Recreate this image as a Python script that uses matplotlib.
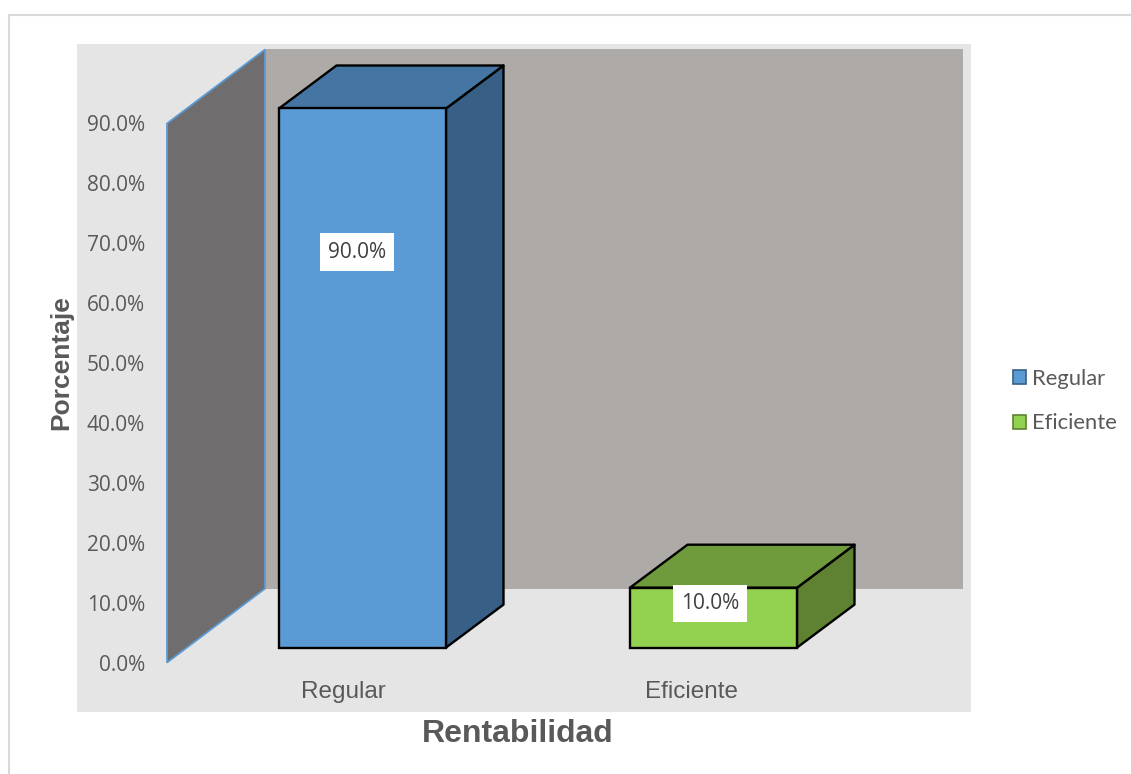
import matplotlib
matplotlib.use("Agg")
import matplotlib.pyplot as plt
from matplotlib.patches import Patch, Rectangle

# datos
categorias = ["Regular", "Eficiente"]
valores = [90.0, 10.0]
ticks_y = [0, 10, 20, 30, 40, 50, 60, 70, 80, 90]
color_frente = ["#5B9BD5", "#92D050"]
color_arriba = ["#4575A2", "#6F9B3C"]
color_lado = ["#385F85", "#5E8231"]

W, H = 1131, 774
PX_X = 351.0   # pixeles por categoria
PX_Y = 5.99    # pixeles por 1%
X0, Y0 = 343, 662.6  # pixel de x=0 , y=0


def dx(p):
    return p / PX_X


def dy(p):
    return p / PX_Y


fig = plt.figure(figsize=(W / 100, H / 100), dpi=100)
fig.patch.set_facecolor("white")

# borde del grafico, sale de la imagen por la derecha y abajo
fig.add_artist(Rectangle((8.5 / W, -0.05), 1.1, 1.05 - 14.5 / H, transform=fig.transFigure,
                         facecolor="white", edgecolor="#D9D9D9", linewidth=1.5, zorder=-1))

# area gris
L, R, T, B = 77, 971, 44, 712
ax = fig.add_axes([L / W, 1 - B / H, (R - L) / W, (B - T) / H])
ax.set_facecolor("#E5E5E5")
ax.set_xlim((L - X0) / PX_X, (R - X0) / PX_X)
ax.set_ylim((Y0 - B) / PX_Y, (Y0 - T) / PX_Y)
for s in ax.spines.values():
    s.set_visible(False)

# paredes
tope = ticks_y[-1]
izq = dx(167 - X0)
prof_x, prof_y = dx(98), dy(74)
der = dx(963 - X0)
ax.fill([izq + prof_x, der, der, izq + prof_x],
        [prof_y, prof_y, tope + prof_y, tope + prof_y], color="#AEAAA8", lw=0, zorder=1)
ax.fill([izq, izq + prof_x, izq + prof_x, izq],
        [0, prof_y, tope + prof_y, tope], facecolor="#6F6D6D", edgecolor="#5B9BD5", lw=1.3, zorder=2)

# barras
ancho = dx(167)
centro = dx(19.5)
base = dy(15)
bx, by = dx(57.5), dy(43)
for i, v in enumerate(valores):
    x1 = i + centro - ancho / 2
    x2 = x1 + ancho
    y1 = base
    y2 = base + v
    ax.fill([x2, x2 + bx, x2 + bx, x2], [y1, y1 + by, y2 + by, y2],
            facecolor=color_lado[i], edgecolor="black", lw=1.7, joinstyle="round", zorder=3)
    ax.fill([x1, x1 + bx, x2 + bx, x2], [y2, y2 + by, y2 + by, y2],
            facecolor=color_arriba[i], edgecolor="black", lw=1.7, joinstyle="round", zorder=3)
    ax.bar(x1 + ancho / 2, v, width=ancho, bottom=y1, color=color_frente[i],
           edgecolor="black", linewidth=1.7, zorder=4)

# etiquetas de datos (movidas a mano en el original)
pos_etiqueta = [(dx(14), dy(410.5)), (1 + dx(16), dy(59))]
for (px, py), v in zip(pos_etiqueta, valores):
    ax.text(px, py, f"{v:.1f}%", ha="center", va="center", fontsize=15, color="#404040",
            family="Open Sans", zorder=6,
            bbox=dict(facecolor="white", edgecolor="none", pad=0, boxstyle="square,pad=0.4"))

# ejes
ax.set_yticks(ticks_y)
ax.set_yticklabels([f"{t:.1f}%" for t in ticks_y], family="Open Sans", fontsize=15, color="#595959",
                   va="center_baseline")
ax.tick_params(axis="y", length=0, pad=-(145 - L) * 0.72)
ax.set_xticks([0, 0.993])
ax.set_xticklabels(categorias, family="Liberation Sans", fontsize=17.5, color="#595959")
ax.tick_params(axis="x", length=0, pad=-(B - 681) * 0.72)

ax.set_xlabel("Rentabilidad", family="Liberation Sans", fontsize=23, fontweight="bold", color="#595959")
ax.xaxis.set_label_coords((517.5 - L) / (R - L), (B - 719) / (B - T))
ax.set_ylabel("Porcentaje", family="Liberation Sans", fontsize=19, fontweight="bold", color="#595959")
ax.yaxis.set_label_coords((73 - L) / (R - L), (B - 363) / (B - T))

# leyenda
handles = [Patch(facecolor=color_frente[i], edgecolor=color_lado[i], linewidth=1.2) for i in range(2)]
fig.legend(handles, categorias, loc="center left", bbox_to_anchor=(1002 / W, 1 - 401 / H),
           frameon=False, prop={"family": "Lato", "size": 15.8}, labelcolor="#595959",
           handlelength=0.6, handleheight=0.6, handletextpad=0.25, labelspacing=1.12, borderpad=0)

fig.savefig("out.png", dpi=100)
